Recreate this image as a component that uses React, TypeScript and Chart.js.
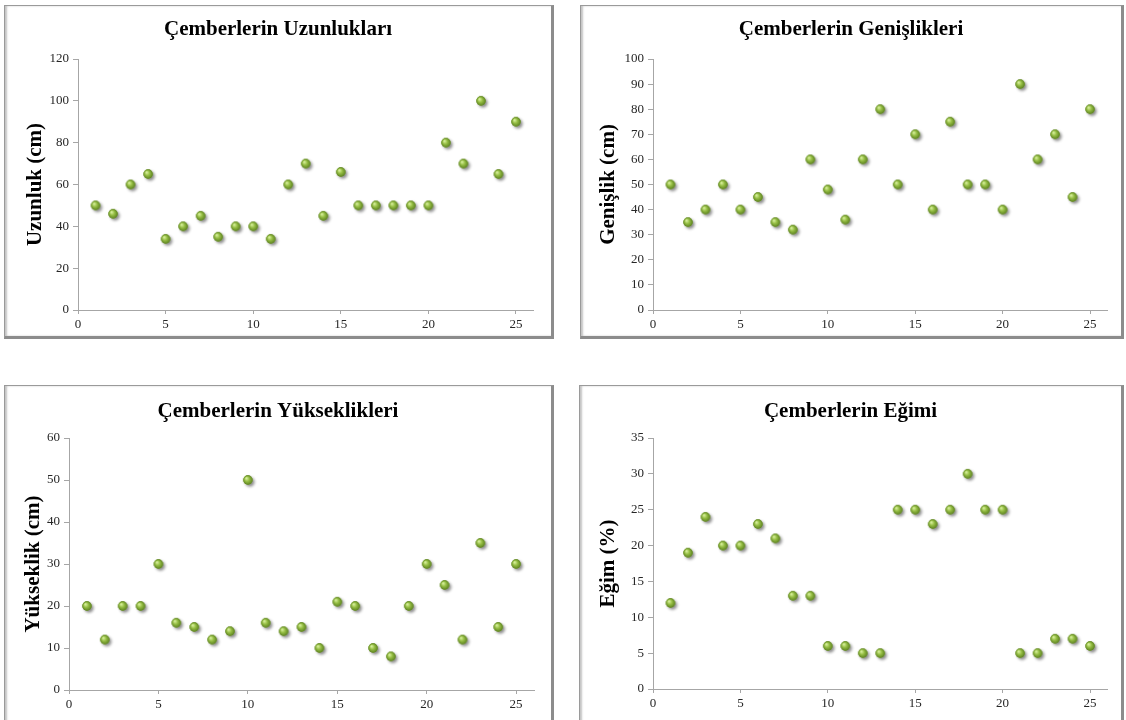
import React, { useEffect, useRef } from "react";
import { Chart, registerables } from "chart.js";

Chart.register(...registerables);

// ---------- data ----------
const sampleNo = [1, 2, 3, 4, 5, 6, 7, 8, 9, 10, 11, 12, 13, 14, 15, 16, 17, 18, 19, 20, 21, 22, 23, 24, 25];
const uzunluk = [50, 46, 60, 65, 34, 40, 45, 35, 40, 40, 34, 60, 70, 45, 66, 50, 50, 50, 50, 50, 80, 70, 100, 65, 90];
const genislik = [50, 35, 40, 50, 40, 45, 35, 32, 60, 48, 36, 60, 80, 50, 70, 40, 75, 50, 50, 40, 90, 60, 70, 45, 80];
const yukseklik = [20, 12, 20, 20, 30, 16, 15, 12, 14, 50, 16, 14, 15, 10, 21, 20, 10, 8, 20, 30, 25, 12, 35, 15, 30];
const egim = [12, 19, 24, 20, 20, 23, 21, 13, 13, 6, 6, 5, 5, 25, 25, 23, 25, 30, 25, 25, 5, 5, 7, 7, 6];

const chartTitles = ["Çemberlerin Uzunlukları", "Çemberlerin Genişlikleri", "Çemberlerin Yükseklikleri", "Çemberlerin Eğimi"];
const yAxisTitles = ["Uzunluk (cm)", "Genişlik (cm)", "Yükseklik (cm)", "Eğim (%)"];
const yMaxes = [120, 100, 60, 35];
const ySteps = [20, 10, 10, 5];
const xMax = 26;
const xStep = 5;

const SERIF = '"Liberation Serif", "Times New Roman", serif';

function makeSphere(): HTMLCanvasElement {
  const c = document.createElement("canvas");
  c.width = 22;
  c.height = 22;
  const g = c.getContext("2d")!;
  const cx = 11, cy = 11, r = 4.7;
  g.save();
  g.shadowColor = "rgba(0,0,0,0.45)";
  g.shadowBlur = 3;
  g.shadowOffsetX = 2;
  g.shadowOffsetY = 2;
  g.beginPath();
  g.arc(cx, cy, r, 0, Math.PI * 2);
  g.fillStyle = "#7fa535";
  g.fill();
  g.restore();
  const grad = g.createRadialGradient(cx - 1.6, cy - 1.8, 0.5, cx, cy, r);
  grad.addColorStop(0, "#d6ee9a");
  grad.addColorStop(0.45, "#96bf44");
  grad.addColorStop(1, "#5d8221");
  g.beginPath();
  g.arc(cx, cy, r, 0, Math.PI * 2);
  g.fillStyle = grad;
  g.fill();
  return c;
}

// centre the chart title over the whole panel (not just the padded box)
const centerTitlePlugin = {
  id: "centerTitle",
  afterLayout(chart: any) {
    const t = chart.titleBlock;
    if (t) {
      t.left = 0;
      t.right = chart.width;
      t.width = chart.width;
    }
  },
};

type PanelCfg = {
  idx: number;
  values: number[];
  left: number;
  top: number;
  width: number;
  height: number;
  yWidth: number;
  yTitlePad: number;
  padRight: number;
  xHeight: number;
  titlePadTop: number;
  titlePadBottom: number;
};

function ScatterPanel({ cfg }: { cfg: PanelCfg }) {
  const ref = useRef<HTMLCanvasElement | null>(null);
  const innerW = cfg.width - 4;
  const innerH = cfg.height - 4;
  useEffect(() => {
    if (!ref.current) return;
    const sphere = makeSphere();
    const axisColor = "#a6a6a6";
    const chart = new Chart(ref.current, {
      type: "scatter",
      data: {
        datasets: [
          {
            data: sampleNo.map((x, i) => ({ x, y: cfg.values[i] })),
            pointStyle: sphere as any,
            pointRadius: 5,
            pointHoverRadius: 5,
            showLine: false,
          },
        ],
      },
      plugins: [centerTitlePlugin],
      options: {
        responsive: false,
        animation: false,
        events: [],
        layout: { padding: { left: 0, right: cfg.padRight, top: 0, bottom: 0 } },
        plugins: {
          legend: { display: false },
          tooltip: { enabled: false },
          title: {
            display: true,
            text: chartTitles[cfg.idx],
            color: "#000",
            font: { family: SERIF, size: 21, weight: "bold", lineHeight: 1.2 },
            padding: { top: cfg.titlePadTop, bottom: cfg.titlePadBottom },
          },
        },
        scales: {
          x: {
            type: "linear",
            min: 0,
            max: xMax,
            border: { display: true, color: axisColor, width: 1 },
            grid: { drawOnChartArea: false, drawTicks: true, tickLength: 4, color: axisColor },
            ticks: {
              stepSize: xStep,
              includeBounds: false,
              color: "#262626",
              padding: 3,
              maxRotation: 0,
              font: { family: SERIF, size: 13 },
              callback: (v: any) => (Number(v) % xStep === 0 ? String(v) : ""),
            },
            afterFit: (s: any) => {
              s.height = cfg.xHeight;
            },
          },
          y: {
            type: "linear",
            min: 0,
            max: yMaxes[cfg.idx],
            border: { display: true, color: axisColor, width: 1 },
            grid: { drawOnChartArea: false, drawTicks: true, tickLength: 5, color: axisColor },
            ticks: {
              stepSize: ySteps[cfg.idx],
              color: "#262626",
              padding: 4,
              font: { family: SERIF, size: 13 },
            },
            title: {
              display: true,
              text: yAxisTitles[cfg.idx],
              color: "#000",
              font: { family: SERIF, size: 21, weight: "bold", lineHeight: 1.2 },
              padding: { top: cfg.yTitlePad, bottom: 0 },
            },
            afterFit: (s: any) => {
              s.width = cfg.yWidth;
            },
          },
        },
      },
    } as any);
    return () => chart.destroy();
  }, []);
  return (
    <div
      style={{
        position: "absolute",
        left: cfg.left,
        top: cfg.top,
        width: cfg.width,
        height: cfg.height,
        boxSizing: "border-box",
        background: "#fff",
        borderTop: "1px solid #9a9a9a",
        borderLeft: "1px solid #9a9a9a",
        borderRight: "3px solid #8c8c8c",
        borderBottom: "3px solid #8c8c8c",
        boxShadow: "inset 2px 0 2px #c4c4c4",
      }}
    >
      <canvas
        ref={ref}
        width={innerW}
        height={innerH}
        style={{ display: "block", width: innerW, height: innerH }}
      />
    </div>
  );
}

const panels: PanelCfg[] = [
  { idx: 0, values: uzunluk, left: 4, top: 5, width: 550, height: 334, yWidth: 73, yTitlePad: 18, padRight: 17.5, xHeight: 26, titlePadTop: 10.5, titlePadBottom: 17.3 },
  { idx: 1, values: genislik, left: 580, top: 5, width: 544, height: 334, yWidth: 72, yTitlePad: 15, padRight: 13.5, xHeight: 26, titlePadTop: 10.5, titlePadBottom: 17.3 },
  { idx: 2, values: yukseklik, left: 4, top: 385, width: 550, height: 341, yWidth: 64, yTitlePad: 16, padRight: 17, xHeight: 33, titlePadTop: 12.5, titlePadBottom: 14.3 },
  { idx: 3, values: egim, left: 579, top: 385, width: 545, height: 341, yWidth: 73, yTitlePad: 16, padRight: 13.5, xHeight: 34, titlePadTop: 12.5, titlePadBottom: 14.3 },
];

export default function App() {
  return (
    <div
      style={{
        position: "fixed",
        left: 0,
        top: 0,
        width: 1126,
        height: 720,
        overflow: "hidden",
        background: "#fff",
      }}
    >
      {panels.map((p) => (
        <ScatterPanel key={p.idx} cfg={p} />
      ))}
    </div>
  );
}
